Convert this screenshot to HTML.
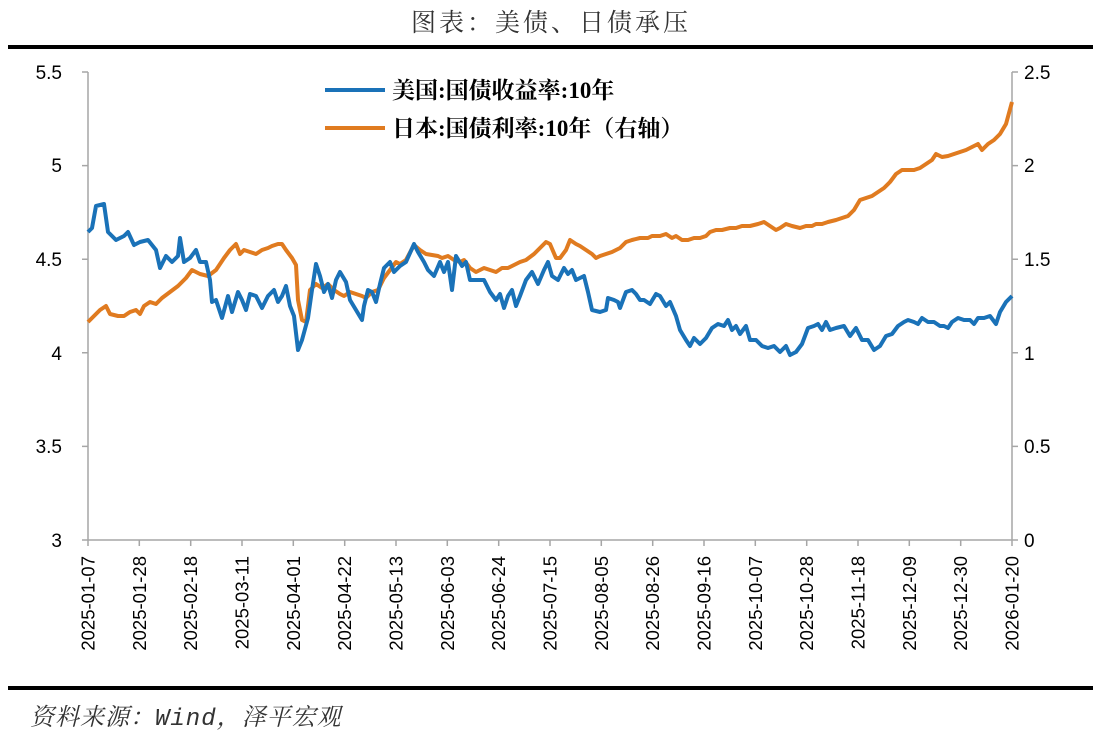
<!DOCTYPE html>
<html><head><meta charset="utf-8"><style>
body{margin:0;background:#fff;}
svg{display:block;}
</style></head><body>
<svg width="1101" height="735" xmlns="http://www.w3.org/2000/svg">
<text x="551" y="31" text-anchor="middle" letter-spacing="3" font-family="'Liberation Serif','Noto Serif CJK SC',serif" font-size="25" fill="#333">图表：美债、日债承压</text>
<rect x="8" y="45" width="1085" height="4" fill="#000"/>
<rect x="8" y="686" width="1085" height="4" fill="#000"/>
<text x="30" y="725" letter-spacing="1" font-family="'Liberation Mono','Noto Serif CJK SC',serif" font-style="italic" font-size="24" fill="#333">资料来源：Wind，泽平宏观</text>
<g stroke="#a6a6a6" stroke-width="1.5" fill="none">
<line x1="88" y1="72" x2="88" y2="540"/>
<line x1="1012" y1="72" x2="1012" y2="540"/>
<line x1="88" y1="540" x2="1012" y2="540"/>
<path d="M82 72H88M82 165.6H88M82 259.2H88M82 352.8H88M82 446.4H88M82 540H88"/>
<path d="M1012 72H1018M1012 165.6H1018M1012 259.2H1018M1012 352.8H1018M1012 446.4H1018M1012 540H1018"/>
<path d="M88 540v6M139.3 540v6M190.7 540v6M242 540v6M293.3 540v6M344.7 540v6M396 540v6M447.3 540v6M498.7 540v6M550 540v6M601.3 540v6M652.7 540v6M704 540v6M755.3 540v6M806.7 540v6M858 540v6M909.3 540v6M960.7 540v6M1012 540v6"/>
</g>
<g font-family="'Liberation Sans',sans-serif" font-size="19" fill="#000">
<text x="62" y="79" text-anchor="end">5.5</text>
<text x="62" y="172" text-anchor="end">5</text>
<text x="62" y="266" text-anchor="end">4.5</text>
<text x="62" y="360" text-anchor="end">4</text>
<text x="62" y="453" text-anchor="end">3.5</text>
<text x="62" y="547" text-anchor="end">3</text>
<text x="1024" y="79">2.5</text>
<text x="1024" y="172">2</text>
<text x="1024" y="266">1.5</text>
<text x="1024" y="360">1</text>
<text x="1024" y="453">0.5</text>
<text x="1024" y="547">0</text>
</g>
<g font-family="'Liberation Sans',sans-serif" font-size="18.5" fill="#000" text-anchor="end">
<text transform="translate(94.5,556) rotate(-90)">2025-01-07</text>
<text transform="translate(145.8,556) rotate(-90)">2025-01-28</text>
<text transform="translate(197.2,556) rotate(-90)">2025-02-18</text>
<text transform="translate(248.5,556) rotate(-90)">2025-03-11</text>
<text transform="translate(299.8,556) rotate(-90)">2025-04-01</text>
<text transform="translate(351.2,556) rotate(-90)">2025-04-22</text>
<text transform="translate(402.5,556) rotate(-90)">2025-05-13</text>
<text transform="translate(453.8,556) rotate(-90)">2025-06-03</text>
<text transform="translate(505.2,556) rotate(-90)">2025-06-24</text>
<text transform="translate(556.5,556) rotate(-90)">2025-07-15</text>
<text transform="translate(607.8,556) rotate(-90)">2025-08-05</text>
<text transform="translate(659.2,556) rotate(-90)">2025-08-26</text>
<text transform="translate(710.5,556) rotate(-90)">2025-09-16</text>
<text transform="translate(761.8,556) rotate(-90)">2025-10-07</text>
<text transform="translate(813.2,556) rotate(-90)">2025-10-28</text>
<text transform="translate(864.5,556) rotate(-90)">2025-11-18</text>
<text transform="translate(915.8,556) rotate(-90)">2025-12-09</text>
<text transform="translate(967.2,556) rotate(-90)">2025-12-30</text>
<text transform="translate(1018.5,556) rotate(-90)">2026-01-20</text>
</g>
<polyline fill="none" stroke="#E07B20" stroke-width="4" stroke-linejoin="round" points="88,322 94,316 100,310 106,306 110,314 118,316 124,316 130,312 136,310 140,314 144,306 150,302 156,304 162,298 170,292 178,286 186,278 192,270 200,274 208,276 216,270 224,258 230,250 236,244 240,254 244,250 250,252 256,254 262,250 268,248 272,246 278,244 282,244 286,250 292,258 296,265 298,300 302,320 306,322 310,290 316,284 322,288 328,284 334,290 340,294 344,296 350,292 356,294 362,296 366,298 372,292 378,290 384,278 390,270 396,262 400,264 406,260 414,245 420,250 426,254 432,255 438,256 442,258 448,256 454,260 460,262 464,260 470,268 476,272 484,268 490,270 496,272 502,268 508,268 512,266 520,262 526,260 534,254 540,248 546,242 550,244 556,258 560,258 566,250 570,240 576,244 580,246 586,250 592,254 596,258 600,256 606,254 612,252 620,248 626,242 632,240 640,238 648,238 652,236 660,236 666,234 672,238 676,236 682,240 688,240 694,238 700,238 706,236 710,232 716,230 722,230 730,228 736,228 742,226 750,226 758,224 764,222 770,226 776,230 780,228 786,224 792,226 800,228 806,226 812,226 816,224 822,224 828,222 836,220 842,218 848,216 854,210 860,200 866,198 872,196 878,192 884,188 890,182 896,174 902,170 908,170 914,170 920,168 926,164 932,160 936,154 942,157 948,156 954,154 960,152 966,150 970,148 978,144 982,150 988,144 994,140 1000,134 1006,124 1012,102"/>
<polyline fill="none" stroke="#1A72B8" stroke-width="4" stroke-linejoin="round" points="88,232 92,228 96,206 104,204 108,232 116,240 124,236 128,232 134,245 140,242 148,240 156,250 160,268 166,256 172,262 178,256 180,238 184,262 190,258 196,250 200,262 206,262 210,280 212,302 216,300 222,318 228,296 232,312 238,292 242,300 246,310 250,294 256,296 262,308 268,296 274,290 278,302 282,296 286,286 290,306 294,316 298,350 302,340 308,318 312,290 316,264 320,276 324,292 328,284 332,298 336,280 340,272 346,282 350,300 356,310 362,320 364,306 368,290 372,292 376,302 380,284 384,268 390,262 394,272 400,266 406,262 414,244 418,252 424,262 428,270 434,276 440,262 444,272 448,262 452,290 456,256 462,266 466,262 470,280 478,280 484,280 490,292 496,300 500,294 504,308 508,296 512,290 516,306 520,296 526,280 532,272 538,284 544,270 548,262 552,276 558,280 564,268 568,274 572,270 576,280 584,276 588,292 592,310 600,312 606,310 608,298 614,300 618,302 620,308 626,292 632,290 636,294 640,300 644,300 650,304 656,294 660,296 666,306 670,302 676,316 680,330 686,340 690,346 694,338 700,344 706,338 712,328 718,324 724,326 728,320 732,330 736,326 740,334 746,326 750,340 756,340 762,346 768,348 774,346 780,352 786,346 790,355 796,352 802,344 808,328 814,326 818,324 822,330 826,322 830,330 836,328 844,326 850,336 856,328 862,340 868,340 874,350 880,346 886,336 892,334 898,326 904,322 908,320 914,322 918,324 922,318 928,322 934,322 940,326 944,326 948,328 952,322 958,318 964,320 970,320 974,324 978,318 984,318 990,316 996,324 1000,312 1006,302 1012,296"/>
<line x1="325" y1="90" x2="385" y2="90" stroke="#1A72B8" stroke-width="4"/>
<line x1="325" y1="128" x2="385" y2="128" stroke="#E07B20" stroke-width="4"/>
<g font-family="'Liberation Serif','Noto Serif CJK SC',serif" font-size="23" font-weight="bold" fill="#000">
<text x="392" y="98">美国:国债收益率:10年</text>
<text x="392" y="136">日本:国债利率:10年（右轴）</text>
</g>
</svg>
</body></html>
